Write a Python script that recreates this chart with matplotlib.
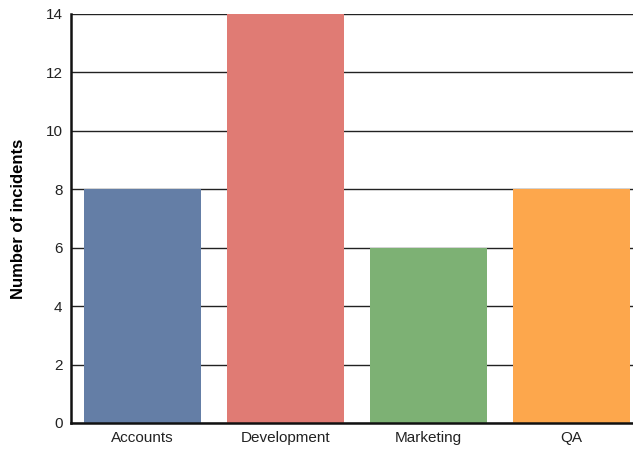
import matplotlib.pyplot as plt

plt.rcParams['font.family'] = ['Liberation Sans', 'DejaVu Sans']

# data
departments = ['Accounts', 'Development', 'Marketing', 'QA']
incidents = [8, 14, 6, 8]
colors = ['#647ea6', '#e07b74', '#7db174', '#fda74c']

fig = plt.figure(figsize=(6.33, 4.5), dpi=100)
ax = fig.add_axes([0.112, 0.06, 0.888, 0.909])

ax.bar(range(len(departments)), incidents, width=0.82, color=colors, zorder=2)

ax.set_xlim(-0.5, 3.43)
ax.set_ylim(0, 14)
ax.set_yticks(range(0, 15, 2))
ax.set_xticks(range(len(departments)))
ax.set_xticklabels(departments)
ax.tick_params(length=0, labelsize=11, colors='#222222', pad=6)
ax.tick_params(axis='x', pad=6)

ax.yaxis.grid(True, color='#222222', linewidth=1.0, zorder=1)
ax.set_axisbelow(True)

for s in ['top', 'right']:
    ax.spines[s].set_visible(False)
for s in ['left', 'bottom']:
    ax.spines[s].set_linewidth(1.8)
    ax.spines[s].set_color('#111111')
    ax.spines[s].set_zorder(3)

ax.set_ylabel('Number of incidents', fontsize=12, fontweight='bold', labelpad=14)

fig.savefig('out.png', dpi=100)
